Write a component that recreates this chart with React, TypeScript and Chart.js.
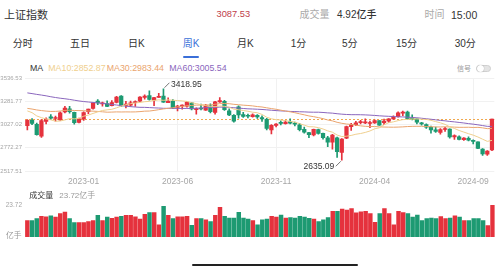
import React, { useEffect, useRef } from 'react';
import { Chart, registerables } from 'chart.js';
Chart.register(...registerables);

const FONT = '"Liberation Sans", "Noto Sans CJK SC", sans-serif';

const weeks = [
  '2022-10-10','2022-10-17','2022-10-24','2022-10-31','2022-11-07','2022-11-14','2022-11-21','2022-11-28','2022-12-05','2022-12-12','2022-12-19','2022-12-26',
  '2023-01-03','2023-01-09','2023-01-16','2023-01-30','2023-02-06','2023-02-13','2023-02-20','2023-02-27','2023-03-06','2023-03-13','2023-03-20','2023-03-27',
  '2023-04-03','2023-04-10','2023-04-17','2023-04-24','2023-05-04','2023-05-08','2023-05-15','2023-05-22','2023-05-29','2023-06-05','2023-06-12','2023-06-19',
  '2023-06-26','2023-07-03','2023-07-10','2023-07-17','2023-07-24','2023-07-31','2023-08-07','2023-08-14','2023-08-21','2023-08-28','2023-09-04','2023-09-11',
  '2023-09-18','2023-09-25','2023-10-09','2023-10-16','2023-10-23','2023-10-30','2023-11-06','2023-11-13','2023-11-20','2023-11-27','2023-12-04','2023-12-11',
  '2023-12-18','2023-12-25','2024-01-02','2024-01-08','2024-01-15','2024-01-22','2024-01-29','2024-02-05','2024-02-19','2024-02-26','2024-03-04','2024-03-11',
  '2024-03-18','2024-03-25','2024-04-01','2024-04-08','2024-04-15','2024-04-22','2024-04-29','2024-05-06','2024-05-13','2024-05-20','2024-05-27','2024-06-03',
  '2024-06-11','2024-06-17','2024-06-24','2024-07-01','2024-07-08','2024-07-15','2024-07-22','2024-07-29','2024-08-05','2024-08-12','2024-08-19','2024-08-26',
  '2024-09-02','2024-09-09','2024-09-18','2024-09-23',
];

const opens = [
  3015,3072,3030,2899,3062,3110,3093,3077,3165,3200,3160,3050,
  3087,3167,3202,3283,3253,3255,3234,3270,3338,3236,3240,3267,
  3282,3324,3343,3294,3325,3338,3265,3285,3214,3230,3227,3265,
  3190,3202,3185,3232,3159,3275,3280,3178,3128,3222,3136,3121,
  3114,3127,3102,3083,2969,3018,3045,3037,3058,3038,3024,2975,
  2938,2912,2972,2929,2881,2833,2881,2722,2878,3003,3025,3047,
  3045,3038,3044,3071,3046,3064,3089,3114,3152,3162,3095,3088,
  3045,3027,2995,2968,2940,2972,2976,2890,2893,2860,2875,2852,
  2837,2757,2701,2749,
];
const highs = [
  3082,3093,3042,3081,3099,3135,3119,3166,3226,3226,3164,3098,
  3165,3196,3265,3300,3274,3287,3290,3335,3343,3281,3284,3286,
  3334,3353,3396,3324,3369,3418.95,3319,3301,3236,3242,3280,3269,
  3209,3251,3249,3254,3280,3322,3291,3200,3136,3232,3159,3140,
  3144,3137,3123,3094,3027,3036,3067,3070,3088,3053,3040,2998,
  2942,2976,2976,2932,2897,2918,2890,2874,3011,3040,3063,3073,
  3090,3064,3077,3071,3086,3092,3123,3165,3174,3175,3132,3092,
  3051,3034,3010,2999,2982,2997,2979,2915,2904,2885,2892,2860,
  2838,2763,2740,3087.53,
];
const lows = [
  2968,3026,2910,2885,3034,3083,3064,3071,3155,3150,3031,3043,
  3073,3146,3195,3244,3227,3222,3230,3264,3224,3209,3224,3225,
  3276,3305,3294,3233,3324,3268,3265,3201,3177,3196,3216,3186,
  3141,3188,3181,3155,3140,3268,3180,3123,3053,3096,3104,3098,
  3108,3094,3062,2969,2923,3001,3023,3031,3034,3011,2958,2933,
  2882,2903,2921,2866,2785,2756,2666,2635.09,2872,2961,3015,3034,
  3036,2993,3039,3016,3026,3049,3083,3107,3124,3085,3077,3034,
  3020,2985,2933,2940,2922,2950,2878,2863,2859,2853,2848,2815,
  2762,2689,2689,2740,
];
const closes = [
  3071.99,3038.93,2915.93,3070.80,3087.29,3097.24,3101.69,3156.14,3206.95,3167.86,3045.87,3089.26,
  3157.64,3195.31,3264.81,3263.41,3260.67,3224.02,3267.16,3328.39,3230.08,3250.55,3265.65,3272.86,
  3327.65,3338.15,3301.26,3323.27,3334.50,3272.36,3283.54,3212.50,3230.07,3231.41,3273.33,3197.90,
  3202.06,3196.61,3237.70,3167.75,3275.93,3288.08,3189.25,3131.95,3064.07,3133.25,3116.72,3117.74,
  3132.43,3110.48,3088.10,2983.06,3017.78,3030.80,3038.97,3054.37,3040.97,3031.64,2969.56,2942.56,
  2914.78,2974.93,2929.18,2881.98,2832.28,2910.22,2730.15,2865.90,3004.88,3027.02,3046.02,3054.64,
  3048.03,3041.17,3069.30,3019.47,3065.26,3088.64,3104.82,3154.55,3154.03,3088.87,3086.81,3051.28,
  3032.63,2998.14,2967.40,2949.93,2971.30,2982.31,2890.90,2905.34,2862.19,2879.43,2854.37,2842.21,
  2765.81,2704.09,2736.81,3087.53,
];
// weekly closes before the visible window (history for the moving averages)
const priorCloses = [
  3516.30,3427.33,3522.16,3581.73,3703.11,3613.97,3613.07,3568.17,3592.17,3572.37,3582.60,3547.34,
  3491.57,3539.10,3560.37,3564.09,3607.43,3666.35,3632.36,3618.05,3639.78,3579.54,3521.26,3522.57,
  3361.44,3462.95,3490.76,3451.41,3447.65,3309.75,3251.07,3212.24,3282.72,3251.85,3211.24,3086.92,
  3047.06,3001.56,3084.28,3146.57,3130.24,3195.46,3284.83,3316.79,3349.75,3387.64,3356.08,3228.06,
  3269.97,3253.24,3227.03,3276.89,3258.08,3236.22,3186.48,3262.05,3126.40,3088.37,3024.39,
];
// weekly volume, 亿手
const volumes = [
  12.2,12.2,13.6,15.3,14.9,15.7,14.7,17.4,18.5,13.6,10.7,10.7,
  10.7,11.5,12.2,16.0,12.2,14.7,13.9,14.7,15.3,16.0,16.0,14.9,
  13.2,16.8,18.1,18.1,9.0,22.7,16.0,13.6,14.9,14.9,15.3,8.6,
  13.6,13.6,12.8,11.5,16.0,22.0,15.3,14.1,14.1,18.3,14.1,13.2,
  12.2,9.0,12.8,13.2,15.3,14.7,16.2,14.1,14.3,14.1,15.3,14.7,
  13.9,13.2,11.5,12.8,14.3,18.9,18.9,20.6,19.9,21.0,17.8,18.7,
  18.9,17.4,10.9,17.4,21.0,17.4,9.0,18.9,18.1,17.4,14.7,16.2,
  12.2,13.6,14.1,13.6,15.1,13.6,14.1,15.7,14.7,12.2,12.2,13.6,
  13.6,12.2,8.4,23.72,
];
const priceTicks = [3536.53, 3281.77, 3027.02, 2772.27, 2517.51];
const xLabelIdx = [12, 32, 53, 74, 95];
const xLabels = ['2023-01', '2023-06', '2023-11', '2024-04', '2024-09'];
const tabs = ['分时', '五日', '日K', '周K', '月K', '1分', '5分', '15分', '30分'];
const tabX = [12.7, 70, 128, 182.7, 237, 290.7, 342, 396, 454.7];

const RED = '#e5323d';
const GREEN = '#1d9a72';
const MA10_C = '#efcf8e';
const MA30_C = '#eaa46e';
const MA60_C = '#8a66bd';

function movingAverage(period: number) {
  const all = [...priorCloses, ...closes];
  const off = priorCloses.length;
  return closes.map((_, i) => {
    const end = off + i;
    let s = 0;
    for (let k = end - period + 1; k <= end; k++) s += all[k];
    return s / period;
  });
}

const T = ({ x, y, size, color, weight, children }: any) => (
  <span style={{ position: 'absolute', left: x, top: y, transform: 'translateY(-50%)', fontSize: size, color, fontWeight: weight || 400, lineHeight: 1, whiteSpace: 'nowrap' }}>{children}</span>
);

export default function App() {
  const priceRef = useRef<HTMLCanvasElement>(null);
  const volRef = useRef<HTMLCanvasElement>(null);
  const ma10 = movingAverage(10);
  const ma30 = movingAverage(30);
  const ma60 = movingAverage(60);
  const volMax = Math.max(...volumes);

  useEffect(() => {
    Chart.defaults.font.family = FONT;
    const colors = opens.map((o, i) => (closes[i] >= o ? RED : GREEN));

    const annotate = {
      id: 'annotate',
      beforeDatasetsDraw(chart: any) {
        const { ctx, chartArea, scales } = chart;
        const py = scales.y.getPixelForValue(closes[closes.length - 1]);
        ctx.save();
        ctx.strokeStyle = '#f0a84e';
        ctx.lineWidth = 1;
        ctx.setLineDash([2, 2]);
        ctx.beginPath();
        ctx.moveTo(chartArea.left, Math.round(py) + 0.5);
        ctx.lineTo(chartArea.right, Math.round(py) + 0.5);
        ctx.stroke();
        ctx.restore();
      },
      afterDatasetsDraw(chart: any) {
        const { ctx, scales } = chart;
        let hi = 0, lo = 0;
        highs.forEach((h, i) => { if (h > highs[hi]) hi = i; });
        lows.forEach((l, i) => { if (l < lows[lo]) lo = i; });
        ctx.save();
        ctx.font = '8.5px ' + FONT;
        ctx.fillStyle = '#333';
        ctx.strokeStyle = '#555';
        ctx.lineWidth = 0.8;
        const hx = scales.x.getPixelForValue(hi);
        const hy = scales.y.getPixelForValue(highs[hi]);
        ctx.beginPath(); ctx.moveTo(hx + 1, hy - 1); ctx.lineTo(hx + 6, hy - 6); ctx.stroke();
        ctx.textAlign = 'left'; ctx.textBaseline = 'middle';
        ctx.fillText(highs[hi].toFixed(2), hx + 7.5, hy - 4);
        const lx = scales.x.getPixelForValue(lo);
        const ly = scales.y.getPixelForValue(lows[lo]);
        ctx.beginPath(); ctx.moveTo(lx - 1, ly + 1); ctx.lineTo(lx - 6, ly + 6); ctx.stroke();
        ctx.textAlign = 'right';
        ctx.fillText(lows[lo].toFixed(2), lx - 7.5, ly + 6);
        ctx.restore();
      },
    };

    const lineDs = (label: string, data: number[], color: string) => ({
      type: 'line' as const, label, data, borderColor: color, borderWidth: 1, pointRadius: 0, tension: 0, order: 0,
    });

    const c1 = new Chart(priceRef.current!, {
      type: 'bar',
      data: {
        labels: weeks,
        datasets: [
          lineDs('MA10', ma10, MA10_C) as any,
          lineDs('MA30', ma30, MA30_C) as any,
          lineDs('MA60', ma60, MA60_C) as any,
          { label: 'wick', data: lows.map((l, i) => [l, highs[i]]), backgroundColor: colors, barThickness: 1, grouped: false, order: 2 } as any,
          { label: 'body', data: opens.map((o, i) => [o, closes[i]]), backgroundColor: colors, barThickness: 3.6, minBarLength: 1, grouped: false, order: 1 } as any,
        ],
      },
      options: {
        responsive: false,
        animation: false,
        devicePixelRatio: 1,
        layout: { padding: { top: 8, right: 3.15, left: 0, bottom: 0 } },
        plugins: { legend: { display: false }, tooltip: { enabled: false } },
        scales: {
          x: {
            type: 'category',
            offset: true,
            border: { display: false },
            grid: { offset: false, drawTicks: false, color: (c: any) => (xLabelIdx.includes(c.index) ? '#f1f1f1' : 'rgba(0,0,0,0)') },
            ticks: {
              autoSkip: false, maxRotation: 0, padding: 6, color: '#a6a6a6', font: { size: 8.5 },
              callback: (_v: any, i: number) => { const k = xLabelIdx.indexOf(i); return k >= 0 ? xLabels[k] : ''; },
            },
            afterFit: (s: any) => { s.height = 20; },
          },
          y: {
            min: priceTicks[priceTicks.length - 1],
            max: priceTicks[0],
            border: { display: false },
            grid: { color: '#f1f1f1', drawTicks: false },
            afterBuildTicks: (s: any) => { s.ticks = priceTicks.map((v) => ({ value: v })); },
            ticks: { padding: 3, color: '#a6a6a6', font: { size: 6 }, callback: (v: any) => Number(v).toFixed(2) },
            afterFit: (s: any) => { s.width = 25; },
          },
        },
      },
      plugins: [annotate],
    });

    const c2 = new Chart(volRef.current!, {
      type: 'bar',
      data: {
        labels: weeks,
        datasets: [{ label: '成交量', data: volumes, backgroundColor: colors, barThickness: 3.8 }],
      },
      options: {
        responsive: false,
        animation: false,
        devicePixelRatio: 1,
        layout: { padding: { top: 5.3, right: 3.15, left: 0, bottom: 2.7 } },
        plugins: { legend: { display: false }, tooltip: { enabled: false } },
        scales: {
          x: { type: 'category', offset: true, display: false },
          y: {
            min: 0,
            max: volMax,
            border: { display: false },
            grid: { display: false, drawTicks: false },
            afterBuildTicks: (s: any) => { s.ticks = [{ value: volMax }]; },
            ticks: { padding: 3, color: '#a6a6a6', font: { size: 6.5 }, callback: (v: any) => Number(v).toFixed(2) },
            afterFit: (s: any) => { s.width = 25; },
          },
        },
      },
    });

    return () => { c1.destroy(); c2.destroy(); };
  }, []);

  const last = (a: number[]) => a[a.length - 1].toFixed(2);

  return (
    <div style={{ position: 'fixed', left: 0, top: 0, width: 498, height: 271, background: '#fff', overflow: 'hidden', fontFamily: FONT }}>
      <T x={4} y={15} size={11} color="#333">上证指数</T>
      <T x={216.5} y={15} size={9.3} color="#c0404a">{closes[closes.length - 1].toFixed(2)}</T>
      <T x={299.5} y={15} size={10} color="#aaa">成交量</T>
      <T x={337} y={15} size={10} color="#333" weight={500}>4.92亿手</T>
      <T x={424.5} y={15} size={10} color="#aaa">时间</T>
      <T x={451} y={15} size={10.5} color="#333">15:00</T>

      {tabs.map((t, i) => (
        <T key={t} x={tabX[i]} y={44} size={10} color={t === '周K' ? '#3a6fd8' : '#333'}>{t}</T>
      ))}
      <div style={{ position: 'absolute', left: 182.7, top: 56, width: 16.6, height: 2, background: '#3a6fd8', borderRadius: 1 }} />

      <T x={30} y={67.5} size={8.8} color="#333">MA</T>
      <T x={48.3} y={67.5} size={8.8} color={MA10_C}>MA10:{last(ma10)}</T>
      <T x={106.7} y={67.5} size={8.8} color={MA30_C}>MA30:{last(ma30)}</T>
      <T x={169.3} y={67.5} size={8.8} color={MA60_C}>MA60:{last(ma60)}</T>
      <T x={457} y={68} size={7} color="#999">信号</T>
      <div style={{ position: 'absolute', left: 475.7, top: 64.5, width: 15.6, height: 7.5, borderRadius: 4, background: '#e4e4e4', boxSizing: 'border-box', border: '0.6px solid #d0d0d0' }}>
        <div style={{ position: 'absolute', left: 0, top: -0.3, width: 7, height: 7, borderRadius: 4, background: '#fff', boxShadow: '0 0 1px rgba(0,0,0,0.4)' }} />
      </div>

      <canvas ref={priceRef} width={498} height={121} style={{ position: 'absolute', left: 0, top: 70, width: 498, height: 121 }} />

      <T x={29.3} y={195.7} size={8} color="#333">成交量</T>
      <T x={59.3} y={195.7} size={8} color="#999">{volMax.toFixed(2)}亿手</T>
      <canvas ref={volRef} width={498} height={46} style={{ position: 'absolute', left: 0, top: 198, width: 498, height: 46 }} />
      <T x={6} y={235.7} size={7.8} color="#999">亿手</T>

      <div style={{ position: 'absolute', left: 192, top: 263.5, width: 166, height: 2.6, background: '#222', borderRadius: 2 }} />
    </div>
  );
}
